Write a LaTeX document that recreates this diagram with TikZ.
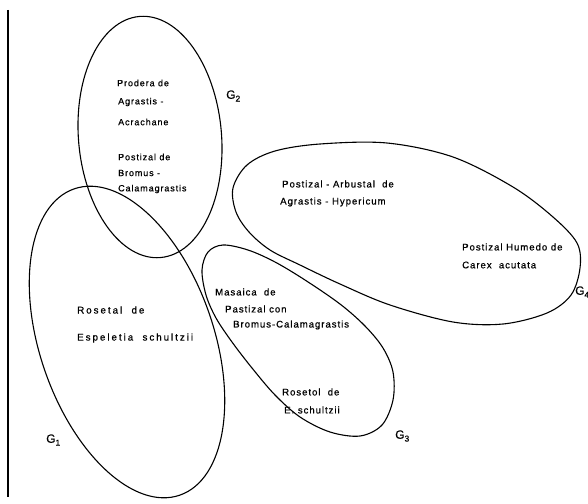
\documentclass[tikz,border=0pt]{standalone}
\usepackage{fontspec}
\setmainfont[LetterSpace=10,FakeBold=0.6]{Liberation Sans}
\begin{document}
\begin{tikzpicture}[x=1pt,y=-1pt,
  blob/.style={line width=1.1pt},
  lbl/.style={font=\fontsize{9.6}{11}\selectfont, anchor=west, inner sep=0pt},
  lblsm/.style={font=\fontsize{9}{11}\selectfont, anchor=west, inner sep=0pt},
  lblwide/.style={font=\fontsize{9.8}{11}\selectfont\addfontfeature{LetterSpace=20}, anchor=west, inner sep=0pt},
  glbl/.style={font=\fontsize{12}{13}\selectfont, anchor=west, inner sep=0pt}]
\useasboundingbox (0,0) rectangle (588,503);
% axis line
\coordinate (ltop) at (8,10);
\coordinate (lbot) at (8,497);
\draw[line width=1.3pt] (ltop) -- (lbot);
% G1 and G2
\draw[blob, rotate around={19:(127,342)}] (127,342) ellipse (87pt and 162pt);
\draw[blob, rotate around={5:(150,137)}] (150,137) ellipse (71.5pt and 121pt);
% G3
\draw[blob] plot[smooth cycle, tension=0.55] coordinates {
  (223,245) (248,250) (275,262) (305,280) (340,304) (365,326) (383,348)
  (393,372) (393,400) (382,425) (360,436) (330,432) (300,417) (275,395)
  (252,368) (232,342) (216,318) (206,295) (202,270) (208,252)};
% G4
\draw[blob] plot[smooth cycle, tension=0.55] coordinates {
  (233,188) (247,165) (275,151) (320,144) (387,143) (453,157) (513,187)
  (553,217) (577,243) (580,268) (571,295) (547,313) (503,324) (453,322)
  (390,305) (340,284) (300,265) (270,250) (249,232) (236,212)};
% G2 texts
\node[lblsm] (a1) at (117,83) {Prodera de};
\node[lblsm] (a2) at (118,102) {Agrastis -};
\node[lblsm] (a3) at (118,122) {Acrachane};
\node[lblsm] (a4) at (118,157) {Postizal de};
\node[lblsm] (a5) at (118,173) {Bromus -};
\node[lblsm] (a6) at (118,189) {Calamagrastis};
% G4 texts
\node[lbl] (b1) at (282,184) {Postizal - Arbustal \ de};
\node[lbl] (b2) at (280,202) {Agrastis - Hypericum};
\node[lbl] (b3) at (462,247) {Postizal Humedo de};
\node[lbl] (b4) at (462,265) {Carex \ acutata};
% G3 texts
\node[lbl] (c1) at (215,292) {Masaica \ de};
\node[lbl] (c2) at (225,309) {Pastizal con};
\node[lbl] (c3) at (233,325) {Bromus-Calamagrastis};
\node[lbl] (c4) at (282,392) {Rosetol \ de};
\node[lbl] (c5) at (284,410) {E. schultzii};
% G1 texts
\node[lblwide] (d1) at (77,310) {Rosetal \ de};
\node[lblwide] (d2) at (77,338) {Espeletia \ schultzii};
% group labels
\node[glbl] (g1) at (46,440) {G\raisebox{-0.45ex}{\fontsize{8.5}{9}\selectfont 1}};
\node[glbl] (g2) at (226,96) {G\raisebox{-0.45ex}{\fontsize{8.5}{9}\selectfont 2}};
\node[glbl] (g3) at (395,436) {G\raisebox{-0.45ex}{\fontsize{8.5}{9}\selectfont 3}};
\node[glbl] (g4) at (575,292) {G\raisebox{-0.45ex}{\fontsize{8.5}{9}\selectfont 4}};
\end{tikzpicture}
\end{document}
